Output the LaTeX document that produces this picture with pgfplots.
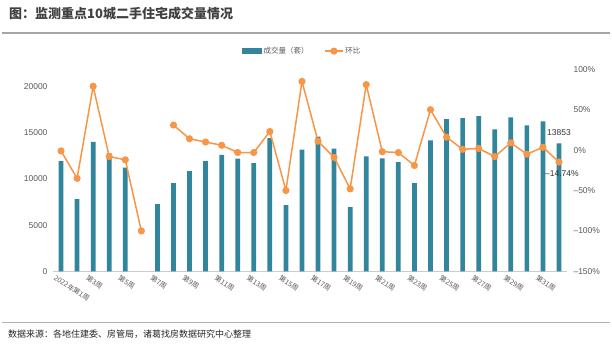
\documentclass[border=0pt]{standalone}
\usepackage{pgfplots}
\pgfplotsset{compat=1.18}
\usepackage{fontspec}
\setmainfont{Liberation Sans}
\newfontfamily\cjk{Noto Sans CJK SC}
\definecolor{barc}{HTML}{31859C}
\definecolor{linec}{HTML}{F79646}
\definecolor{tickc}{HTML}{595959}
\begin{document}
\begin{tikzpicture}[x=1pt,y=1pt]
\useasboundingbox (0,0) rectangle (612,346);
\node[anchor=west, font=\cjk\bfseries\fontsize{13}{15}\selectfont, text=black!75, inner sep=0] at (9,332) {图：监测重点10城二手住宅成交量情况};
\draw[gray!70, line width=1.5] (2,313) -- (610,313);
\draw[gray!60, line width=1] (2,24) -- (610,24);
\node[anchor=west, font=\cjk\fontsize{9}{11}\selectfont, text=black!85, inner sep=0] at (8,12) {数据来源：各地住建委、房管局，诸葛找房数据研究中心整理};

\begin{axis}[
  at={(53pt,74.7pt)}, anchor=south west,
  scale only axis, width=514pt, height=202pt,
  xmin=0.5, xmax=32.5, ymin=0, ymax=21885,
  clip=false,
  axis x line*=bottom, axis y line*=left,
  x axis line style={draw=gray!40, line width=0.8pt},
  y axis line style={draw=none},
  major tick length=0pt,
  scaled y ticks=false,
  xtick={1,3,...,31},
  xticklabels={2022年第1周,第3周,第5周,第7周,第9周,第11周,第13周,第15周,第17周,第19周,第21周,第23周,第25周,第27周,第29周,第31周},
  xticklabel style={font=\cjk\fontsize{7}{8}\selectfont, rotate=-33, anchor=north west, text=tickc, inner sep=1pt, xshift=-3pt, yshift=-4pt},
  ytick={0,5000,10000,15000,20000},
  yticklabels={0,5000,10000,15000,20000},
  yticklabel style={font=\fontsize{8.5}{10}\selectfont, text=tickc, xshift=-2pt},
]
\addplot[ybar, bar width=4.7pt, fill=barc, draw=none] coordinates {
(1,11950) (2,7820) (3,14030) (4,12780) (5,11220) (7,7270) (8,9540) (9,10860)
(10,11950) (11,12610) (12,12200) (13,11730) (14,14430) (15,7160) (16,13190)
(17,14580) (18,13300) (19,6940) (20,12460) (21,12240) (22,11840) (23,9540)
(24,14180) (25,16480) (26,16590) (27,16810) (28,15380) (29,16670) (30,15820)
(31,16240) (32,13853)};
\node[font=\fontsize{8.5}{10}\selectfont, text=black!80, anchor=center] at (axis cs:32,13853) [yshift=10.5pt] {13853};
\end{axis}

\begin{axis}[
  at={(53pt,74.7pt)}, anchor=south west,
  scale only axis, width=514pt, height=202pt,
  xmin=0.5, xmax=32.5, ymin=-150, ymax=100,
  clip=false,
  axis x line=none, axis y line*=right,
  y axis line style={draw=none},
  major tick length=0pt,
  unbounded coords=jump,
  ytick={-150,-100,-50,0,50,100},
  yticklabels={–150\%,–100\%,–50\%,0\%,50\%,100\%},
  yticklabel style={font=\fontsize{8.5}{10}\selectfont, text=tickc, xshift=3pt},
  legend columns=2,
  legend style={at={(0.485,1.09)}, anchor=center, draw=none, fill=none,
    font=\cjk\fontsize{7.5}{9}\selectfont, text=tickc,
    /tikz/every even column/.append style={column sep=14pt}},
]
\addlegendimage{legend image code/.code={\fill[barc] (0pt,-2.5pt) rectangle (19pt,2.5pt);}}
\addlegendentry{成交量（套）}
\addplot[linec, line width=1.5pt, mark=*, mark size=2.8pt, mark options={fill=linec, draw=linec}] coordinates {
(1,-1) (2,-35) (3,79) (4,-8) (5,-12) (6,-100) (7,nan) (8,31) (9,14) (10,10)
(11,6) (12,-3) (13,-3) (14,23) (15,-50) (16,85) (17,11) (18,-9) (19,-48)
(20,81) (21,-2) (22,-3) (23,-19) (24,50) (25,16) (26,1) (27,2) (28,-8)
(29,9) (30,-5) (31,3.5) (32,-14.74)};
\addlegendentry{环比}
\node[font=\fontsize{8.5}{10}\selectfont, text=black!80, anchor=center] at (axis cs:32,-14.74) [yshift=-12pt, xshift=3pt] {–14.74\%};
\end{axis}
\end{tikzpicture}
\end{document}
